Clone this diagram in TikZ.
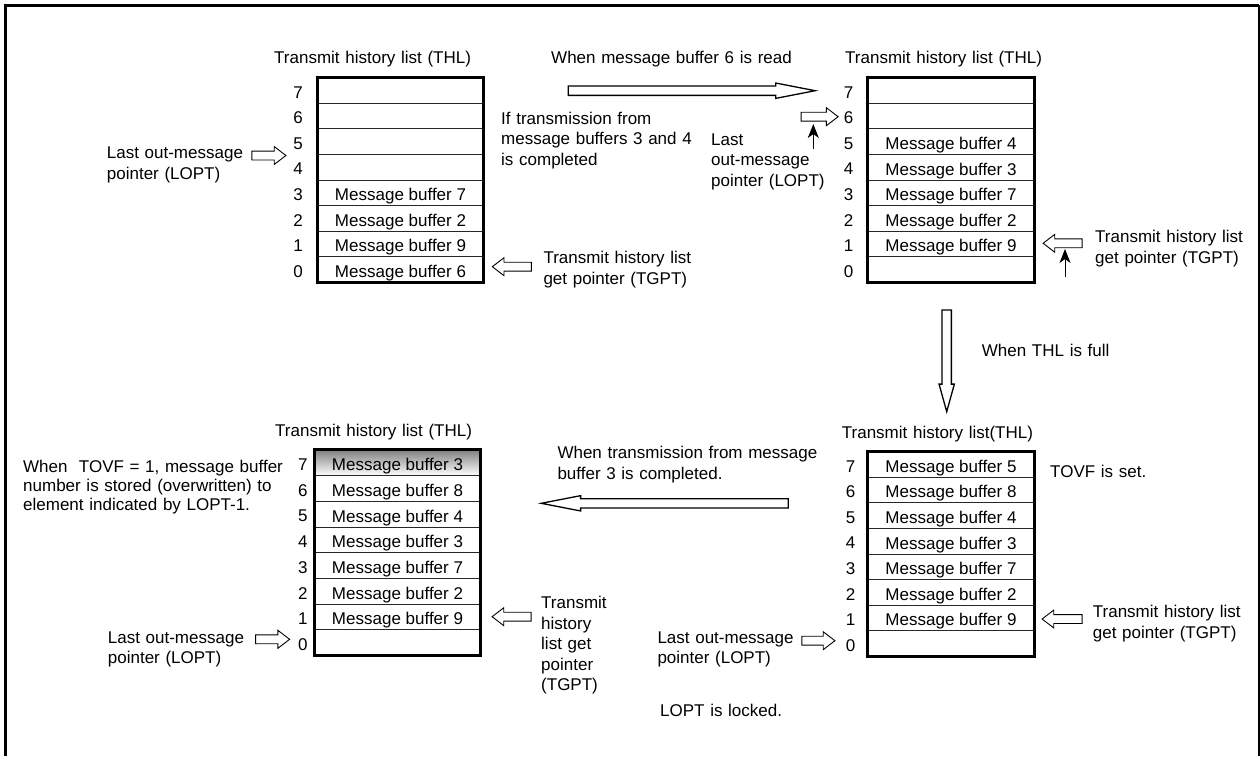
\documentclass[tikz,border=0pt]{standalone}
\usepackage{fontspec}
\setmainfont{Liberation Sans}
\usetikzlibrary{shapes.arrows,arrows.meta,calc}
\definecolor{shade}{RGB}{192,192,192}
\tikzset{
  cell/.style={draw=black!85, line width=0.8pt, inner sep=0pt, text height=16pt, text depth=0pt},
  outer/.style={line width=3pt},
  idx/.style={inner sep=0pt, anchor=center},
  lbl/.style={anchor=base west, align=left, inner sep=0pt, text width=340pt},
  hol/.style={single arrow, draw, line width=0.9pt, inner xsep=0pt, inner ysep=4pt,
              single arrow head extend=4.5pt, single arrow tip angle=75, minimum height=#1},
  big/.style={single arrow, draw, line width=1.3pt, inner xsep=0pt, inner ysep=4pt,
              single arrow head extend=3pt, single arrow tip angle=#1},
  ptr/.style={-{Stealth[length=14pt,width=11pt,inset=4pt]}, line width=0.9pt}
}
\newcommand\thltab[7]{%
  \foreach \t [count=\i from 0] in {#7} {
    \pgfmathtruncatemacro\k{7-\i}
    \node[cell, minimum width=#4pt, minimum height=#5pt] (#1\k) at ({#2+#4/2},{#3+(\i+0.5)*#5}) {\t};
    \node[idx] (#1n\k) at ({#2-#6},{#3+(\i+0.5)*#5+2}) {\k};
  }
  \draw[outer] (#17.north west) rectangle (#10.south east);
}
\begin{document}
\begin{tikzpicture}[x=1pt,y=-1pt,font=\fontsize{17}{20.5}\selectfont]
\useasboundingbox (0,0) rectangle (1260,756);
% frame
\draw[line width=3pt, line join=miter] (5.5,756) -- (5.5,5) -- (1259,5);
\draw[line width=1.4pt] (1259,5) -- (1259,756);

% ---------- top-left table ----------
\node[lbl] (tlT) at (274,63) {Transmit history list (THL)};
\thltab{TL}{317.5}{77.5}{166}{25.6}{19.5}{{},{},{},{},Message buffer 7,Message buffer 2,Message buffer 9,Message buffer 6}
\node[lbl] (tlL) at (106.7,158.7) {Last out-message\\pointer (LOPT)};
\node[hol=34pt] (tlLa) at (266,155.5) {};
\node[lbl] (tlG) at (543.3,263.7) {Transmit history list\\get pointer (TGPT)};
\node[hol=39pt, shape border rotate=180] (tlGa) at (514.7,266.7) {};

% ---------- transition top ----------
\node[lbl] (t1) at (551,63) {When message buffer 6 is read};
\node[big=22, minimum height=247pt] (a1) at (679.7,90.7) {};
\node[lbl] (t2) at (501,124.3) {If transmission from\\message buffers 3 and 4\\is completed};

% ---------- top-right table ----------
\node[lbl] (trT) at (845,63) {Transmit history list (THL)};
\thltab{TR}{868}{77.5}{166}{25.6}{19.5}{{},{},Message buffer 4,Message buffer 3,Message buffer 7,Message buffer 2,Message buffer 9,{}}
\node[lbl] (trL) at (711,145) {Last\\out-message\\pointer (LOPT)};
\node[hol=37pt] (trLa) at (816.7,116.7) {};
\coordinate (trLp0) at (813.3,149);
\coordinate (trLp1) at (813.3,124);
\draw[ptr] (trLp0) -- (trLp1);
\node[lbl] (trG) at (1095,242.7) {Transmit history list\\get pointer (TGPT)};
\node[hol=39pt, shape border rotate=180] (trGa) at (1065.5,243.3) {};
\coordinate (trGp0) at (1065,277);
\coordinate (trGp1) at (1065,249);
\draw[ptr] (trGp0) -- (trGp1);

% ---------- transition right ----------
\node[big=31, minimum height=101.6pt, shape border rotate=270, inner xsep=4pt, inner ysep=0pt] (a2) at (946.7,352.5) {};
\node[lbl] (t3) at (981.7,356) {When THL is full};

% ---------- bottom-right table ----------
\node[lbl] (brT) at (841.7,438.7) {Transmit history list(THL)};
\thltab{BR}{868}{451.5}{166}{25.6}{17.3}{Message buffer 5,Message buffer 8,Message buffer 4,Message buffer 3,Message buffer 7,Message buffer 2,Message buffer 9,{}}
\node[lbl] (brS) at (1050,477.7) {TOVF is set.};
\node[lbl] (brG) at (1092.7,617.7) {Transmit history list\\get pointer (TGPT)};
\node[hol=40pt, shape border rotate=180] (brGa) at (1065,619) {};
\node[lbl] (brL) at (657.3,643.3) {Last out-message\\pointer (LOPT)};
\node[hol=33pt] (brLa) at (815.5,640.7) {};
\node[lbl] (brK) at (660,716) {LOPT is locked.};

% ---------- transition bottom ----------
\node[lbl] (t4) at (557.3,458.7) {When transmission from message\\buffer 3 is completed.};
\node[big=22, minimum height=247pt, shape border rotate=180] (a3) at (676.7,503.3) {};

% ---------- bottom-left table ----------
\node[lbl] (blT) at (275,436.7) {Transmit history list (THL)};
\fill[shade] (314.8,449.8) rectangle (480.2,475.6);
\thltab{BL}{314.8}{449.8}{165.4}{25.7}{12}{Message buffer 3,Message buffer 8,Message buffer 4,Message buffer 3,Message buffer 7,Message buffer 2,Message buffer 9,{}}
\node[lbl, font=\fontsize{17}{19}\selectfont] (blW) at (23,472) {When\ \ TOVF = 1, message buffer\\number is stored (overwritten) to\\element indicated by LOPT-1.};
\node[lbl] (blL) at (107.7,643.3) {Last out-message\\pointer (LOPT)};
\node[hol=34pt] (blLa) at (269.7,639.3) {};
\node[lbl] (blG) at (541,608.7) {Transmit\\history\\list get\\pointer\\(TGPT)};
\node[hol=39pt, shape border rotate=180] (blGa) at (514.5,616.7) {};
\end{tikzpicture}
\end{document}
